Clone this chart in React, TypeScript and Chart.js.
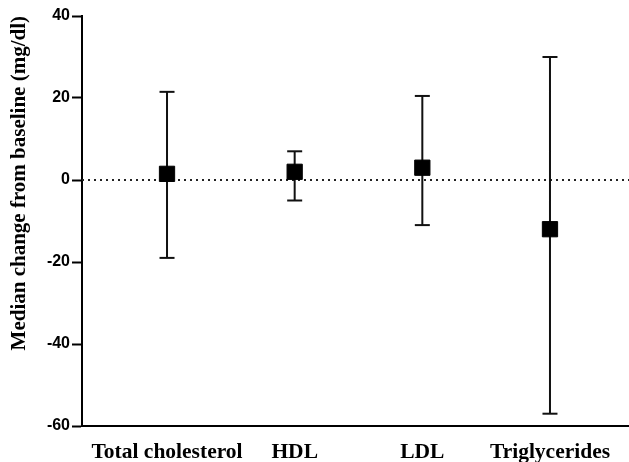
import React, { useEffect, useRef } from 'react';
import { Chart, registerables } from 'chart.js';

Chart.register(...registerables);

// ---- data ----
const categories = ['Total cholesterol', 'HDL', 'LDL', 'Triglycerides'];
const medians = [1.5, 2, 3, -12];
const lowerBounds = [-19, -5, -11, -57];
const upperBounds = [21.5, 7, 20.5, 30];
const yTickValues = [-60, -40, -20, 0, 20, 40];
const yTitle = 'Median change from baseline (mg/dl)';

// ---- layout ----
const X_MIN = -0.666;
const X_MAX = 3.619;
const SERIF = '"Liberation Serif", "Times New Roman", serif';
const SANS = '"Liberation Sans", Arial, sans-serif';

export default function App() {
  const ref = useRef<HTMLCanvasElement | null>(null);

  useEffect(() => {
    if (!ref.current) return;

    const medianPts = categories.map((_, i) => ({ x: i, y: medians[i] }));
    const capPts: { x: number; y: number }[] = [];
    const whiskerPts: { x: number; y: number | null }[] = [];
    categories.forEach((_, i) => {
      capPts.push({ x: i, y: lowerBounds[i] });
      capPts.push({ x: i, y: upperBounds[i] });
      whiskerPts.push({ x: i, y: lowerBounds[i] });
      whiskerPts.push({ x: i, y: upperBounds[i] });
      whiskerPts.push({ x: i, y: null });
    });

    const chart = new Chart(ref.current, {
      type: 'scatter',
      data: {
        datasets: [
          {
            label: 'Median',
            data: medianPts,
            pointStyle: 'rect',
            pointRadius: 10.8,
            pointBackgroundColor: '#000',
            pointBorderColor: '#000',
            pointBorderWidth: 1,
            showLine: false,
          },
          {
            label: 'Caps',
            data: capPts,
            pointStyle: 'line',
            pointRadius: 7.5,
            pointBorderColor: '#111',
            pointBorderWidth: 2,
            showLine: false,
          },
          {
            label: 'Range',
            data: whiskerPts as any,
            showLine: true,
            spanGaps: false,
            borderColor: '#111',
            borderWidth: 2,
            pointRadius: 0,
          },
          {
            label: 'Zero',
            data: [
              { x: X_MIN, y: 0 },
              { x: X_MAX, y: 0 },
            ],
            showLine: true,
            borderColor: '#222',
            borderWidth: 2,
            borderDash: [2, 4],
            pointRadius: 0,
          },
        ] as any,
      },
      options: {
        animation: false,
        responsive: false,
        devicePixelRatio: 1,
        events: [],
        layout: { autoPadding: false, padding: { top: 16, left: 0, right: 0, bottom: 0 } },
        plugins: {
          legend: { display: false },
          tooltip: { enabled: false },
        },
        scales: {
          x: {
            type: 'linear',
            min: X_MIN,
            max: X_MAX,
            afterBuildTicks: (scale: any) => {
              scale.ticks = categories.map((_, i) => ({ value: i }));
            },
            afterFit: (scale: any) => {
              scale.height = 36;
              scale.paddingLeft = 0;
              scale.paddingRight = 0;
            },
            grid: { display: false, drawTicks: false },
            border: { display: true, color: '#000', width: 2 },
            ticks: {
              autoSkip: false,
              maxRotation: 0,
              minRotation: 0,
              padding: 14,
              color: '#000',
              font: { family: SERIF, size: 21.5, weight: 'bold' },
              callback: (v: any) => categories[v as number] ?? '',
            },
          },
          y: {
            type: 'linear',
            min: -60,
            max: 40,
            afterBuildTicks: (scale: any) => {
              scale.ticks = yTickValues.map((v) => ({ value: v }));
            },
            afterFit: (scale: any) => {
              scale.width = 82;
            },
            grid: {
              display: true,
              drawOnChartArea: false,
              drawTicks: true,
              tickLength: 10,
              tickWidth: 2,
              tickColor: '#000',
            },
            border: { display: true, color: '#000', width: 2 },
            ticks: {
              padding: 2,
              color: '#000',
              font: { family: SANS, size: 16, weight: 'bold' },
            },
            title: {
              display: true,
              text: yTitle,
              align: 'end',
              color: '#000',
              padding: { top: 7, bottom: 0 },
              font: { family: SERIF, size: 21, weight: 'bold' },
            },
          },
        },
      } as any,
    });

    return () => chart.destroy();
  }, []);

  return (
    <div style={{ position: 'fixed', left: 0, top: 0, width: 629, height: 462, background: '#fff' }}>
      <canvas ref={ref} width={629} height={462} style={{ width: 629, height: 462, display: 'block' }} />
    </div>
  );
}
